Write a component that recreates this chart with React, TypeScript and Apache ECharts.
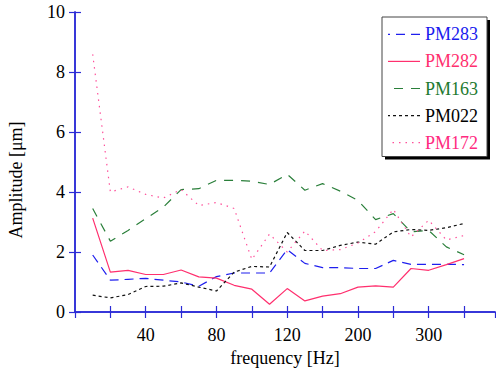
import React, { useEffect, useRef } from "react";
import * as echarts from "echarts";

// frequency of each measured point [Hz]
const frequencies = [10, 20, 30, 40, 50, 60, 70, 80, 90, 100, 110, 120, 140, 160, 180, 200, 225, 250, 275, 300, 325, 350];
const labeledFrequencies = [40, 80, 120, 200, 300];
const yTicks = [0, 2, 4, 6, 8, 10];

const seriesNames = ["PM283", "PM282", "PM163", "PM022", "PM172"];
const PM283 = [1.9, 1.06, 1.09, 1.12, 1.06, 1.0, 0.86, 1.18, 1.3, 1.3, 1.3, 2.08, 1.62, 1.48, 1.48, 1.45, 1.45, 1.72, 1.59, 1.59, 1.59, 1.58];
const PM282 = [3.13, 1.33, 1.39, 1.25, 1.25, 1.4, 1.17, 1.13, 0.89, 0.76, 0.26, 0.78, 0.37, 0.53, 0.61, 0.83, 0.87, 0.83, 1.45, 1.39, 1.58, 1.78];
const PM163 = [3.45, 2.36, 2.72, 3.11, 3.5, 4.08, 4.11, 4.39, 4.39, 4.36, 4.25, 4.59, 4.06, 4.28, 4.03, 3.72, 3.08, 3.28, 2.67, 2.72, 2.17, 1.91];
const PM022 = [0.56, 0.47, 0.58, 0.85, 0.86, 0.97, 0.83, 0.7, 1.33, 1.52, 1.5, 2.65, 2.05, 2.05, 2.22, 2.33, 2.26, 2.67, 2.75, 2.72, 2.81, 2.95];
const PM172 = [8.59, 4.0, 4.17, 3.92, 3.8, 4.08, 3.55, 3.65, 3.45, 1.75, 2.6, 2.0, 2.7, 2.05, 2.08, 2.3, 2.68, 3.42, 2.5, 3.06, 2.4, 2.55];
const seriesValues = [PM283, PM282, PM163, PM022, PM172];

const lineColors = ["#1f1fee", "#ff2f6e", "#2a7f3a", "#111111", "#ff4f9a"];
const textColors = ["#1a1aee", "#ff2f6e", "#1e7a30", "#000000", "#ff2a7f"];
const dashes: (number[] | null)[] = [[9, 6], null, [9, 8], [3, 3], [1.5, 5]];

const FONT = "'Liberation Serif', serif";
const AXIS_COLOR = "#2b2bd6";

export default function App() {
  const ref = useRef<HTMLDivElement>(null);
  useEffect(() => {
    if (!ref.current) return;
    const chart = echarts.init(ref.current, undefined, { renderer: "svg" });
    const xMax = 23.75;
    const axisCommon = {
      axisLine: { show: true, lineStyle: { color: AXIS_COLOR, width: 1.5 } },
      axisTick: { show: true, inside: true, length: 6, lineStyle: { color: AXIS_COLOR, width: 1.2 } },
      splitLine: { show: false },
    };
    const legendGraphics: any[] = [
      { type: "rect", z: 100, shape: { x: 385, y: 20, width: 105, height: 139.5 }, style: { fill: "#000" } },
      { type: "rect", z: 101, shape: { x: 382, y: 17, width: 105, height: 139.5 }, style: { fill: "#fff", stroke: "#444", lineWidth: 1 } },
    ];
    seriesNames.forEach((name, i) => {
      const ry = 34.3 + i * 27.1;
      legendGraphics.push({
        type: "line",
        z: 102,
        shape: { x1: 420, y1: ry, x2: 388, y2: ry },
        style: { stroke: lineColors[i], lineWidth: 1.2, lineDash: dashes[i] || undefined },
      });
      legendGraphics.push({
        type: "text",
        z: 102,
        x: 478,
        y: ry,
        style: { text: name, fill: textColors[i], fontSize: 18, fontFamily: FONT, align: "right", verticalAlign: "middle" },
      });
    });
    chart.setOption({
      animation: false,
      backgroundColor: "#fff",
      textStyle: { fontFamily: FONT },
      grid: { left: 75, right: 1, top: 12, bottom: 61 },
      xAxis: [
        {
          type: "value",
          min: 0,
          max: xMax,
          interval: 2,
          position: "bottom",
          name: "frequency [Hz]",
          nameLocation: "middle",
          nameGap: 36,
          nameTextStyle: { fontSize: 18, fontFamily: FONT, color: "#000" },
          axisLabel: {
            margin: 14,
            fontSize: 18,
            fontFamily: FONT,
            color: "#000",
            showMinLabel: false,
            showMaxLabel: false,
            formatter: (v: number) => {
              const f = frequencies[Math.round(v) - 1];
              return f !== undefined && labeledFrequencies.includes(f) && Math.abs(v - Math.round(v)) < 1e-6 ? String(f) : "";
            },
          },
          ...axisCommon,
        },
        {
          type: "value",
          min: 0,
          max: xMax,
          interval: 2,
          position: "top",
          axisLabel: { show: false },
          ...axisCommon,
        },
      ],
      yAxis: [
        {
          type: "value",
          min: yTicks[0],
          max: yTicks[yTicks.length - 1],
          interval: 2,
          position: "left",
          axisLabel: { margin: 10, fontSize: 18, fontFamily: FONT, color: "#000" },
          ...axisCommon,
        },
        {
          type: "value",
          min: yTicks[0],
          max: yTicks[yTicks.length - 1],
          interval: 2,
          position: "right",
          axisLabel: { show: false },
          ...axisCommon,
        },
      ],
      graphic: [
        {
          type: "text",
          x: 16,
          y: 180,
          rotation: Math.PI / 2,
          style: { text: "Amplitude [μm]", fill: "#000", fontSize: 18, fontFamily: FONT, align: "center", verticalAlign: "middle" },
        },
        ...legendGraphics,
      ],
      series: seriesNames.map((name, i) => ({
        name,
        type: "line",
        symbol: "none",
        data: frequencies.map((_, j) => [j + 1, seriesValues[i][j]]),
        lineStyle: { color: lineColors[i], width: 1.2, type: dashes[i] || "solid" },
        itemStyle: { color: lineColors[i] },
      })),
    });
    return () => chart.dispose();
  }, []);
  return <div ref={ref} style={{ position: "fixed", left: 0, top: 0, width: 496, height: 373 }} />;
}
